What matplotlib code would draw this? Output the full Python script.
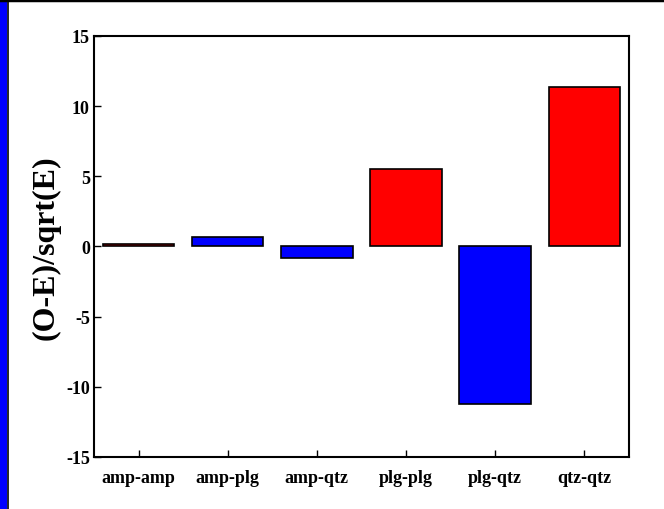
import matplotlib
matplotlib.use("Agg")
import matplotlib.pyplot as plt
from matplotlib.patches import Rectangle
from matplotlib.lines import Line2D

# ── Data ──────────────────────────────────────────────────────────────────────
pairs = ["amp-amp", "amp-plg", "amp-qtz", "plg-plg", "plg-qtz", "qtz-qtz"]
values = [0.15, 0.65, -0.8, 5.5, -11.2, 11.35]
colors = ["#ff0000", "#0000ff", "#0000ff", "#ff0000", "#0000ff", "#ff0000"]

plt.rcParams["font.family"] = ["Liberation Serif", "DejaVu Serif"]
plt.rcParams["font.weight"] = "bold"

fig = plt.figure(figsize=(6.64, 5.10), dpi=100)
ax = fig.add_axes([0.1416, 0.102, 0.8054, 0.8255])

x = list(range(1, len(pairs) + 1))
ax.bar(x, values, width=0.8, color=colors, edgecolor="black", linewidth=1.2)

ax.set_xlim(0.5, 6.5)
ax.set_ylim(-15, 15)
ax.set_xticks(x)
ax.set_xticklabels(pairs, fontsize=13, fontweight="bold")
ax.set_yticks([-15, -10, -5, 0, 5, 10, 15])
ax.set_yticklabels(["-15", "-10", "-5", "0", "5", "10", "15"], fontsize=13, fontweight="bold")
ax.tick_params(direction="in", length=5, width=1, top=False, right=False, pad=3)
ax.tick_params(axis="x", pad=9)
for s in ax.spines.values():
    s.set_linewidth(1.5)
ax.set_ylabel("(O-E)/sqrt(E)", fontsize=23, fontweight="bold", labelpad=4)

# outer frame: blue strip left, black line on top
fig.patches.append(Rectangle((0, 0), 7 / 664, 1, transform=fig.transFigure,
                             facecolor="#0000ff", edgecolor="none", zorder=0))
fig.lines.append(Line2D([7.5 / 664, 7.5 / 664], [0, 1], transform=fig.transFigure,
                        color="black", lw=1.2))
fig.lines.append(Line2D([0, 1], [1 - 1 / 510, 1 - 1 / 510], transform=fig.transFigure,
                        color="black", lw=2.5))

fig.savefig("out.png", dpi=100)
